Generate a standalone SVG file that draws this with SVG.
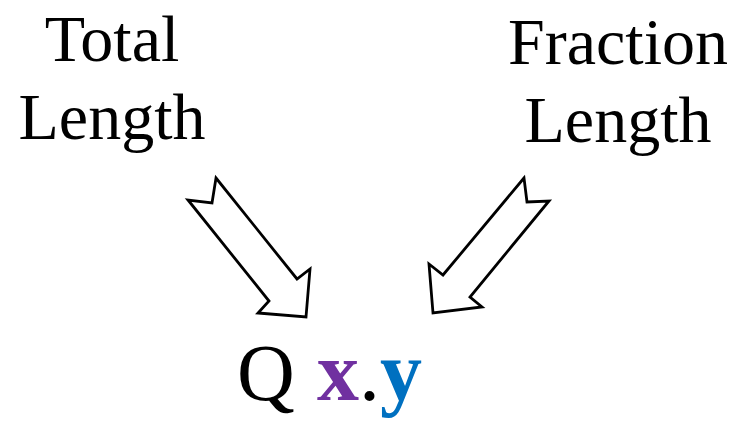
<svg xmlns="http://www.w3.org/2000/svg" width="739" height="421" viewBox="0 0 739 421">
<style>
.lbl{font-family:"Liberation Serif","Times New Roman",serif;font-size:66px;fill:#000;text-anchor:middle}
.arr{fill:#fff;stroke:#000;stroke-width:2.8;stroke-linejoin:miter}
.q{font-family:"Liberation Serif","Times New Roman",serif;font-size:80px}
.xy{font-family:"Liberation Serif","Times New Roman",serif;font-size:84px}
.b{font-weight:bold}
</style>
<rect width="739" height="421" fill="#fff"/>
<g id="total-length">
<text class="lbl" x="112" y="61">Total</text>
<text class="lbl" x="112" y="139">Length</text>
</g>
<g id="fraction-length">
<text class="lbl" x="618" y="64">Fraction</text>
<text class="lbl" x="618" y="142">Length</text>
</g>
<g id="connectors">
<polygon class="arr" points="216,178 297,279 310,269 306,317 258,313 269,301 188,200 212,203"/>
<polygon class="arr" points="524,178 443,275 429,264 433,313 482,307 470,297 549,201 527,202"/>
</g>
<g id="qformat">
<text class="q" x="237" y="400" fill="#000">Q</text>
<text class="xy" x="317" y="400"><tspan class="b" fill="#7030A0">x</tspan><tspan fill="#000">.</tspan><tspan class="b" fill="#0070C0">y</tspan></text>
</g>
</svg>
